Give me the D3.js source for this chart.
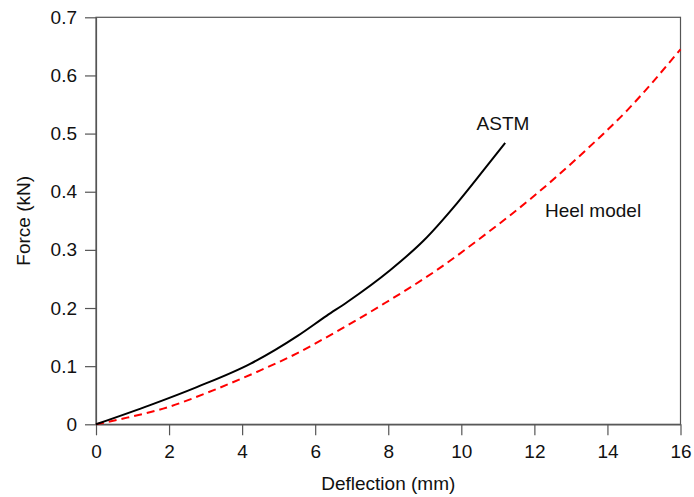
<!DOCTYPE html>
<html>
<head>
<meta charset="utf-8">
<script src="https://cdn.jsdelivr.net/npm/d3@7"></script>
<style>
  body { margin: 0; background: #fff; }
  text { font-family: "Liberation Sans", Arial, sans-serif; }
</style>
</head>
<body>
<svg id="chart" width="694" height="497"></svg>
<script>
// Data (deflection in mm, force in kN)
var astmX = [0, 1.48, 2.76, 4.22, 5.54, 6.32, 6.87, 8.05, 8.97, 9.88, 10.61, 11.2];
var astmY = [0, 0.033, 0.064, 0.104, 0.153, 0.187, 0.21, 0.265, 0.316, 0.38, 0.437, 0.484];
var heelX = [0, 0.75, 1.84, 3.31, 4.4, 5.5, 6.32, 7.87, 9.3, 10.75, 11.9, 13.35, 14.54, 16];
var heelY = [0, 0.01, 0.027, 0.061, 0.09, 0.122, 0.15, 0.207, 0.264, 0.331, 0.388, 0.468, 0.54, 0.645];
var xTicks = [0, 2, 4, 6, 8, 10, 12, 14, 16];
var yTicks = [0, 0.1, 0.2, 0.3, 0.4, 0.5, 0.6, 0.7];

var svg = d3.select("#chart");
var plotLeft = 96, plotRight = 680.5, plotTop = 17.3, plotBottom = 424.3;
var axisColor = "#555";
var fontSize = "19px";

var x = d3.scaleLinear().domain([0, 16]).range([plotLeft, plotRight]);
var y = d3.scaleLinear().domain([0, 0.7]).range([plotBottom, plotTop]);

// Frame (top and right sides)
svg.append("rect")
  .attr("x", plotLeft).attr("y", plotTop)
  .attr("width", plotRight - plotLeft).attr("height", plotBottom - plotTop)
  .attr("fill", "none").attr("stroke", axisColor).attr("stroke-width", 1.2);

// Axes
var xAxis = svg.append("g")
  .attr("transform", "translate(0," + plotBottom + ")")
  .call(d3.axisBottom(x).tickValues(xTicks).tickSize(11).tickSizeOuter(0).tickPadding(9)
    .tickFormat(d3.format("d")));
var yAxis = svg.append("g")
  .attr("transform", "translate(" + plotLeft + ",0)")
  .call(d3.axisLeft(y).tickValues(yTicks).tickSize(11).tickSizeOuter(0).tickPadding(8)
    .tickFormat(function(d) { return d === 0 ? "0" : d3.format(".1f")(d); }));

[xAxis, yAxis].forEach(function(g) {
  g.select(".domain").attr("stroke", axisColor).attr("stroke-width", 1.2);
  g.selectAll(".tick line").attr("stroke", axisColor).attr("stroke-width", 1.2);
  g.selectAll(".tick text")
    .attr("fill", "#111")
    .attr("font-size", fontSize)
    .attr("font-family", "Liberation Sans, Arial, sans-serif");
});

// Lines
var astm = astmX.map(function(d, i) { return [d, astmY[i]]; });
var heel = heelX.map(function(d, i) { return [d, heelY[i]]; });

var line = d3.line()
  .x(function(d) { return x(d[0]); })
  .y(function(d) { return y(d[1]); })
  .curve(d3.curveMonotoneX);

svg.append("path")
  .datum(heel)
  .attr("d", line)
  .attr("fill", "none")
  .attr("stroke", "#ff0000")
  .attr("stroke-width", 2)
  .attr("stroke-dasharray", "8,5");

svg.append("path")
  .datum(astm)
  .attr("d", line)
  .attr("fill", "none")
  .attr("stroke", "#000")
  .attr("stroke-width", 2);

// Curve labels
svg.append("text")
  .attr("x", 503).attr("y", 130)
  .attr("text-anchor", "middle")
  .attr("font-size", fontSize)
  .attr("fill", "#111")
  .text("ASTM");

svg.append("text")
  .attr("x", 545).attr("y", 217)
  .attr("font-size", fontSize)
  .attr("fill", "#111")
  .text("Heel model");

// Axis titles
svg.append("text")
  .attr("x", (plotLeft + plotRight) / 2).attr("y", 490)
  .attr("text-anchor", "middle")
  .attr("font-size", fontSize)
  .attr("fill", "#111")
  .text("Deflection (mm)");

svg.append("text")
  .attr("transform", "translate(30," + (plotTop + plotBottom) / 2 + ") rotate(-90)")
  .attr("text-anchor", "middle")
  .attr("font-size", fontSize)
  .attr("fill", "#111")
  .text("Force (kN)");
</script>
</body>
</html>
